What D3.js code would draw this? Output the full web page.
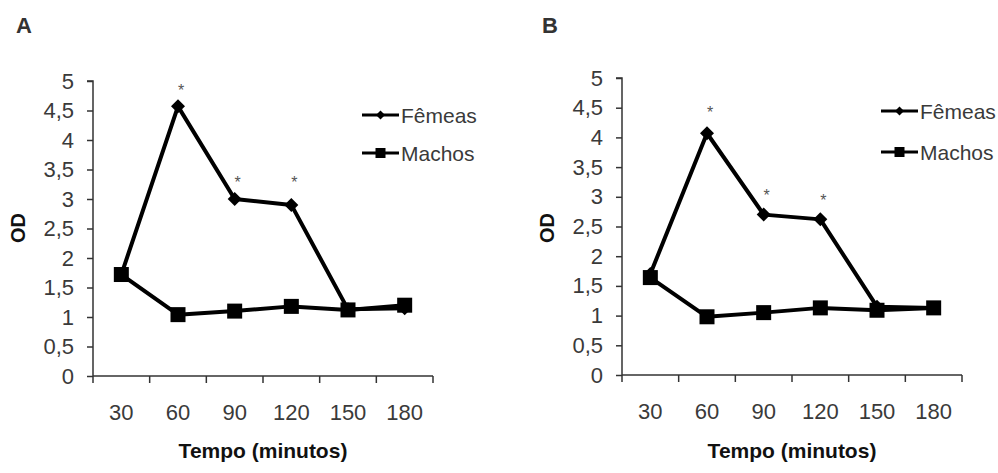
<!DOCTYPE html>
<html>
<head>
<meta charset="utf-8">
<script src="https://cdn.jsdelivr.net/npm/d3@7"></script>
<style>
  html, body { margin: 0; padding: 0; background: #fff; }
  svg { display: block; }
  text { font-family: "Liberation Sans", Arial, sans-serif; }
</style>
</head>
<body>
<svg id="chart" width="998" height="473"></svg>
<script>
// ---- data ----
const categories = ["30", "60", "90", "120", "150", "180"];
const yTickValues = [0, 0.5, 1, 1.5, 2, 2.5, 3, 3.5, 4, 4.5, 5];
const seriesNames = ["Fêmeas", "Machos"];
const panelLabels = ["A", "B"];
const xTitle = "Tempo (minutos)";
const yTitle = "OD";

const femeasA = [1.72, 4.57, 3.0, 2.9, 1.13, 1.15];
const machosA = [1.72, 1.04, 1.1, 1.18, 1.12, 1.2];
const starsA = [null, 4.88, 3.32, 3.32, null, null];

const femeasB = [1.7, 4.07, 2.7, 2.62, 1.15, 1.13];
const machosB = [1.64, 0.98, 1.05, 1.13, 1.09, 1.13];
const starsB = [null, 4.46, 3.06, 2.98, null, null];

// ---- layout ----
const panels = [
  { label: panelLabels[0], femeas: femeasA, machos: machosA, stars: starsA,
    x0: 93, x1: 433, y0: 376, y1: 81, labelX: 24, odX: 18,
    legX: 362, legY: [115, 153] },
  { label: panelLabels[1], femeas: femeasB, machos: machosB, stars: starsB,
    x0: 622, x1: 962, y0: 375, y1: 78, labelX: 550, odX: 547,
    legX: 881, legY: [111, 152] }
];

const svg = d3.select("#chart");
const axisColor = "#333";
const labelColor = "#3a3a3a";

function diamond(g, cx, cy, r) {
  g.append("path")
    .attr("d", `M${cx},${cy - r}L${cx + r},${cy}L${cx},${cy + r}L${cx - r},${cy}Z`)
    .attr("fill", "#000");
}
function square(g, cx, cy, s) {
  g.append("rect")
    .attr("x", cx - s / 2).attr("y", cy - s / 2)
    .attr("width", s).attr("height", s)
    .attr("fill", "#000");
}

panels.forEach(p => {
  const g = svg.append("g");
  const x = d3.scaleBand().domain(categories).range([p.x0, p.x1]);
  const y = d3.scaleLinear().domain([0, 5]).range([p.y0, p.y1]);
  const cx = c => x(c) + x.bandwidth() / 2;

  // panel label
  g.append("text").attr("x", p.labelX).attr("y", 33)
    .attr("text-anchor", "middle").attr("font-weight", "bold")
    .attr("font-size", 22).attr("fill", "#333").text(p.label);

  // y axis
  const yAxis = d3.axisLeft(y).tickValues(yTickValues)
    .tickFormat(d => String(d).replace(".", ","))
    .tickSize(6).tickPadding(13);
  const ya = g.append("g").attr("transform", `translate(${p.x0},0)`).call(yAxis);
  ya.select(".domain").attr("stroke", axisColor).attr("stroke-width", 1.5)
    .attr("d", `M-6,${y(5)}H0V${y(0)}`);
  ya.selectAll(".tick line").attr("stroke", axisColor).attr("stroke-width", 1.5);
  ya.selectAll(".tick text").attr("font-size", 22).attr("fill", labelColor)
    .attr("font-family", "Liberation Sans, Arial, sans-serif");

  // x axis
  g.append("line").attr("x1", p.x0).attr("x2", p.x1)
    .attr("y1", y(0)).attr("y2", y(0))
    .attr("stroke", axisColor).attr("stroke-width", 1.5);
  const bounds = categories.map(c => x(c)).concat([p.x1]);
  g.selectAll(".xt").data(bounds).enter().append("line")
    .attr("x1", d => d).attr("x2", d => d)
    .attr("y1", y(0)).attr("y2", y(0) + 7)
    .attr("stroke", axisColor).attr("stroke-width", 1.5);
  g.selectAll(".xl").data(categories).enter().append("text")
    .attr("x", d => cx(d)).attr("y", y(0) + 44)
    .attr("text-anchor", "middle").attr("font-size", 22)
    .attr("fill", labelColor).text(d => d);

  // titles
  g.append("text").attr("x", (p.x0 + p.x1) / 2).attr("y", 458)
    .attr("text-anchor", "middle").attr("font-weight", "bold")
    .attr("font-size", 21).attr("fill", "#111").text(xTitle);
  g.append("text")
    .attr("transform", `translate(${p.odX + 7},228) rotate(-90)`)
    .attr("text-anchor", "middle").attr("font-weight", "bold")
    .attr("font-size", 20).attr("fill", "#111").text(yTitle);

  // lines
  const line = d3.line().x((d, i) => cx(categories[i])).y(d => y(d));
  g.append("path").datum(p.femeas).attr("d", line)
    .attr("fill", "none").attr("stroke", "#000").attr("stroke-width", 4)
    .attr("stroke-linejoin", "round");
  g.append("path").datum(p.machos).attr("d", line)
    .attr("fill", "none").attr("stroke", "#000").attr("stroke-width", 4)
    .attr("stroke-linejoin", "round");

  p.femeas.forEach((v, i) => diamond(g, cx(categories[i]), y(v), 7));
  p.machos.forEach((v, i) => square(g, cx(categories[i]), y(v), 15));

  // asterisks
  p.stars.forEach((v, i) => {
    if (v == null) return;
    g.append("text").attr("x", cx(categories[i]) + 3).attr("y", y(v) + 8)
      .attr("text-anchor", "middle").attr("font-size", 16)
      .attr("fill", "#555").text("*");
  });

  // legend
  seriesNames.forEach((name, k) => {
    const ly = p.legY[k];
    g.append("line").attr("x1", p.legX).attr("x2", p.legX + 37)
      .attr("y1", ly).attr("y2", ly)
      .attr("stroke", "#000").attr("stroke-width", 3);
    if (k === 0) diamond(g, p.legX + 18.5, ly, 4.5);
    else square(g, p.legX + 18.5, ly, 10);
    g.append("text").attr("x", p.legX + 39).attr("y", ly + 8)
      .attr("font-size", 21).attr("fill", labelColor).text(name);
  });
});
</script>
</body>
</html>
